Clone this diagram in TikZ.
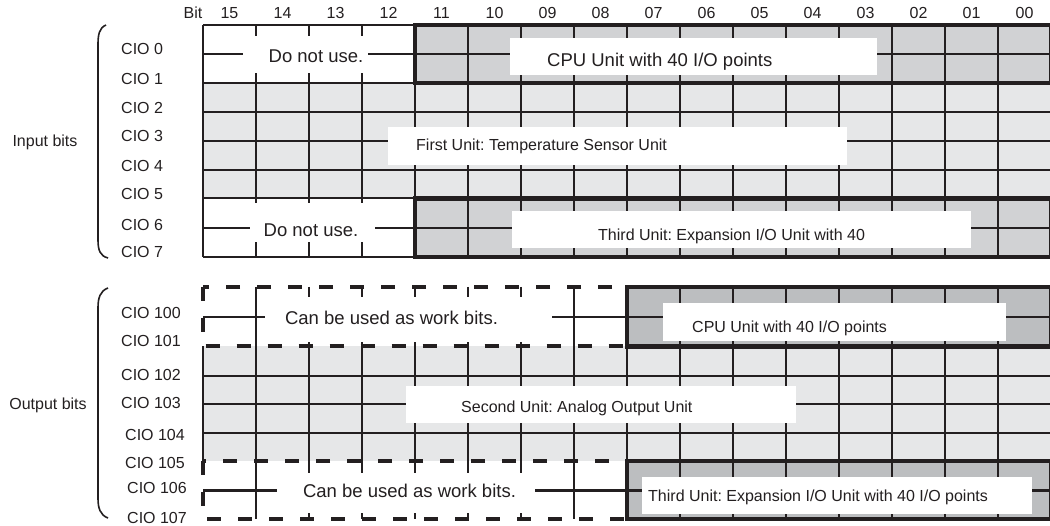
\documentclass[tikz,border=0pt]{standalone}
\usepackage{fontspec}
\setmainfont{Liberation Sans}
\frenchspacing
\definecolor{lg}{HTML}{E6E7E8}
\definecolor{dgin}{HTML}{D1D2D4}
\definecolor{dgout}{HTML}{BCBEC0}
\definecolor{ink}{HTML}{231F20}
\begin{document}
\begin{tikzpicture}[x=1pt,y=-1pt,
  gridline/.style={draw=ink,line width=2pt},
  unitborder/.style={draw=ink,line width=4.5pt},
  dashborder/.style={draw=ink,line width=4pt,dash pattern=on 14pt off 17pt},
  lbl/.style={font=\fontsize{16}{18}\selectfont,text=ink,inner sep=0pt},
  biglbl/.style={font=\fontsize{18.5}{21}\selectfont,text=ink,inner sep=0pt},
  bracestyle/.style={draw=ink,line width=1.6pt}
]
\useasboundingbox (0,0) rectangle (1050,526);
% ---------------- header
\node[lbl] (bit) at (193,13) {Bit};
\foreach \k/\t in {0/15,1/14,2/13,3/12,4/11,5/10,6/09,7/08,8/07,9/06,10/05,11/04,12/03,13/02,14/01,15/00}
  \node[lbl] (h\k) at ({229.5+53*\k},13) {\t};
% ---------------- input area
\fill[lg] (203,83) rectangle (1051,198.5);
\fill[dgin] (415,25) rectangle (1051,83);
\fill[dgin] (415,198.5) rectangle (1051,257);
\foreach \y in {25,54.5,83,112,141,170,198.5,228,257}
  \draw[gridline] (203,\y) -- (1051,\y);
\foreach \k in {0,...,16}
  \draw[gridline] ({203+53*\k},25) -- ({203+53*\k},257);
\fill[white] (243,36) rectangle (368,73);
\fill[white] (250,203) rectangle (375,242);
\draw[unitborder] (415,25) rectangle (1051,83);
\draw[unitborder] (415,198.5) rectangle (1051,257);
\fill[white] (510,38) rectangle (877,75);
\fill[white] (388,127) rectangle (847,165);
\fill[white] (512,211) rectangle (971,248);
\node[biglbl] (dnu1) at (316,56) {Do not use.};
\node[biglbl] (dnu2) at (311,230) {Do not use.};
\node[biglbl,anchor=west] (cpuin) at (547,62) {CPU Unit with 40 I/O points};
\node[lbl,anchor=west] (first) at (416,146) {First Unit: Temperature Sensor Unit};
\node[lbl,anchor=west] (thirdin) at (598,236) {Third Unit: Expansion I/O Unit with 40};
% ---------------- output area
\fill[lg] (203,346.5) rectangle (1051,461);
\fill[dgout] (627,287) rectangle (1051,346.5);
\fill[dgout] (627,461) rectangle (1051,519);
\foreach \y in {376,404.5,433}
  \draw[gridline] (203,\y) -- (1051,\y);
\foreach \y in {287,317,346.5,461,490.5,519}
  \draw[gridline] (627,\y) -- (1051,\y);
\foreach \y in {317,490.5}
  \draw[gridline] (203,\y) -- (627,\y);
\foreach \k in {0,...,16}
  \draw[gridline] ({203+53*\k},346.5) -- ({203+53*\k},461);
\foreach \k in {1,...,16}{
  \draw[gridline] ({203+53*\k},287) -- ({203+53*\k},346.5);
  \draw[gridline] ({203+53*\k},461) -- ({203+53*\k},519);
}
\fill[white] (265,297) rectangle (552,342);
\fill[white] (277,473) rectangle (535,513);
\draw[dashborder] (203,287) rectangle (627,346.5);
\draw[dashborder] (203,461) rectangle (627,519);
\draw[unitborder] (627,287) rectangle (1051,346.5);
\draw[unitborder] (627,461) rectangle (1051,519);
\fill[white] (663,303) rectangle (1006,341);
\fill[white] (406,386) rectangle (796,423);
\fill[white] (642,477) rectangle (1032,514);
\node[biglbl] (work1) at (391.5,318) {Can be used as work bits.};
\node[biglbl] (work2) at (409.5,491) {Can be used as work bits.};
\node[lbl,anchor=west] (cpuout) at (692,328) {CPU Unit with 40 I/O points};
\node[lbl,anchor=west] (second) at (461,408) {Second Unit: Analog Output Unit};
\node[lbl,anchor=west] (thirdout) at (648,497) {Third Unit: Expansion I/O Unit with 40 I/O points};
% ---------------- left labels
\foreach \n/\y in {0/49,1/79,2/108,3/136,4/166,5/194,6/225,7/252}
  \node[lbl,anchor=west] (cio\n) at (121,\y) {CIO \n};
\foreach \n/\x/\y in {100/121/313,101/121/341,102/121/375,103/121/403,104/125/435,105/125/463,106/127/488,107/127/518}
  \node[lbl,anchor=west] (cio\n) at (\x,\y) {CIO \n};
\node[lbl] (inbits) at (45,142) {Input bits};
\node[lbl] (outbits) at (48,405) {Output bits};
\draw[bracestyle] (106,25) .. controls (99,28) and (98,35) .. (98,45) -- (98,240) .. controls (98,250) and (100,256) .. (108,258);
\draw[bracestyle] (108,288) .. controls (100,291) and (98,298) .. (98,308) -- (98,498) .. controls (98,508) and (100,515) .. (108,518);
\end{tikzpicture}
\end{document}
